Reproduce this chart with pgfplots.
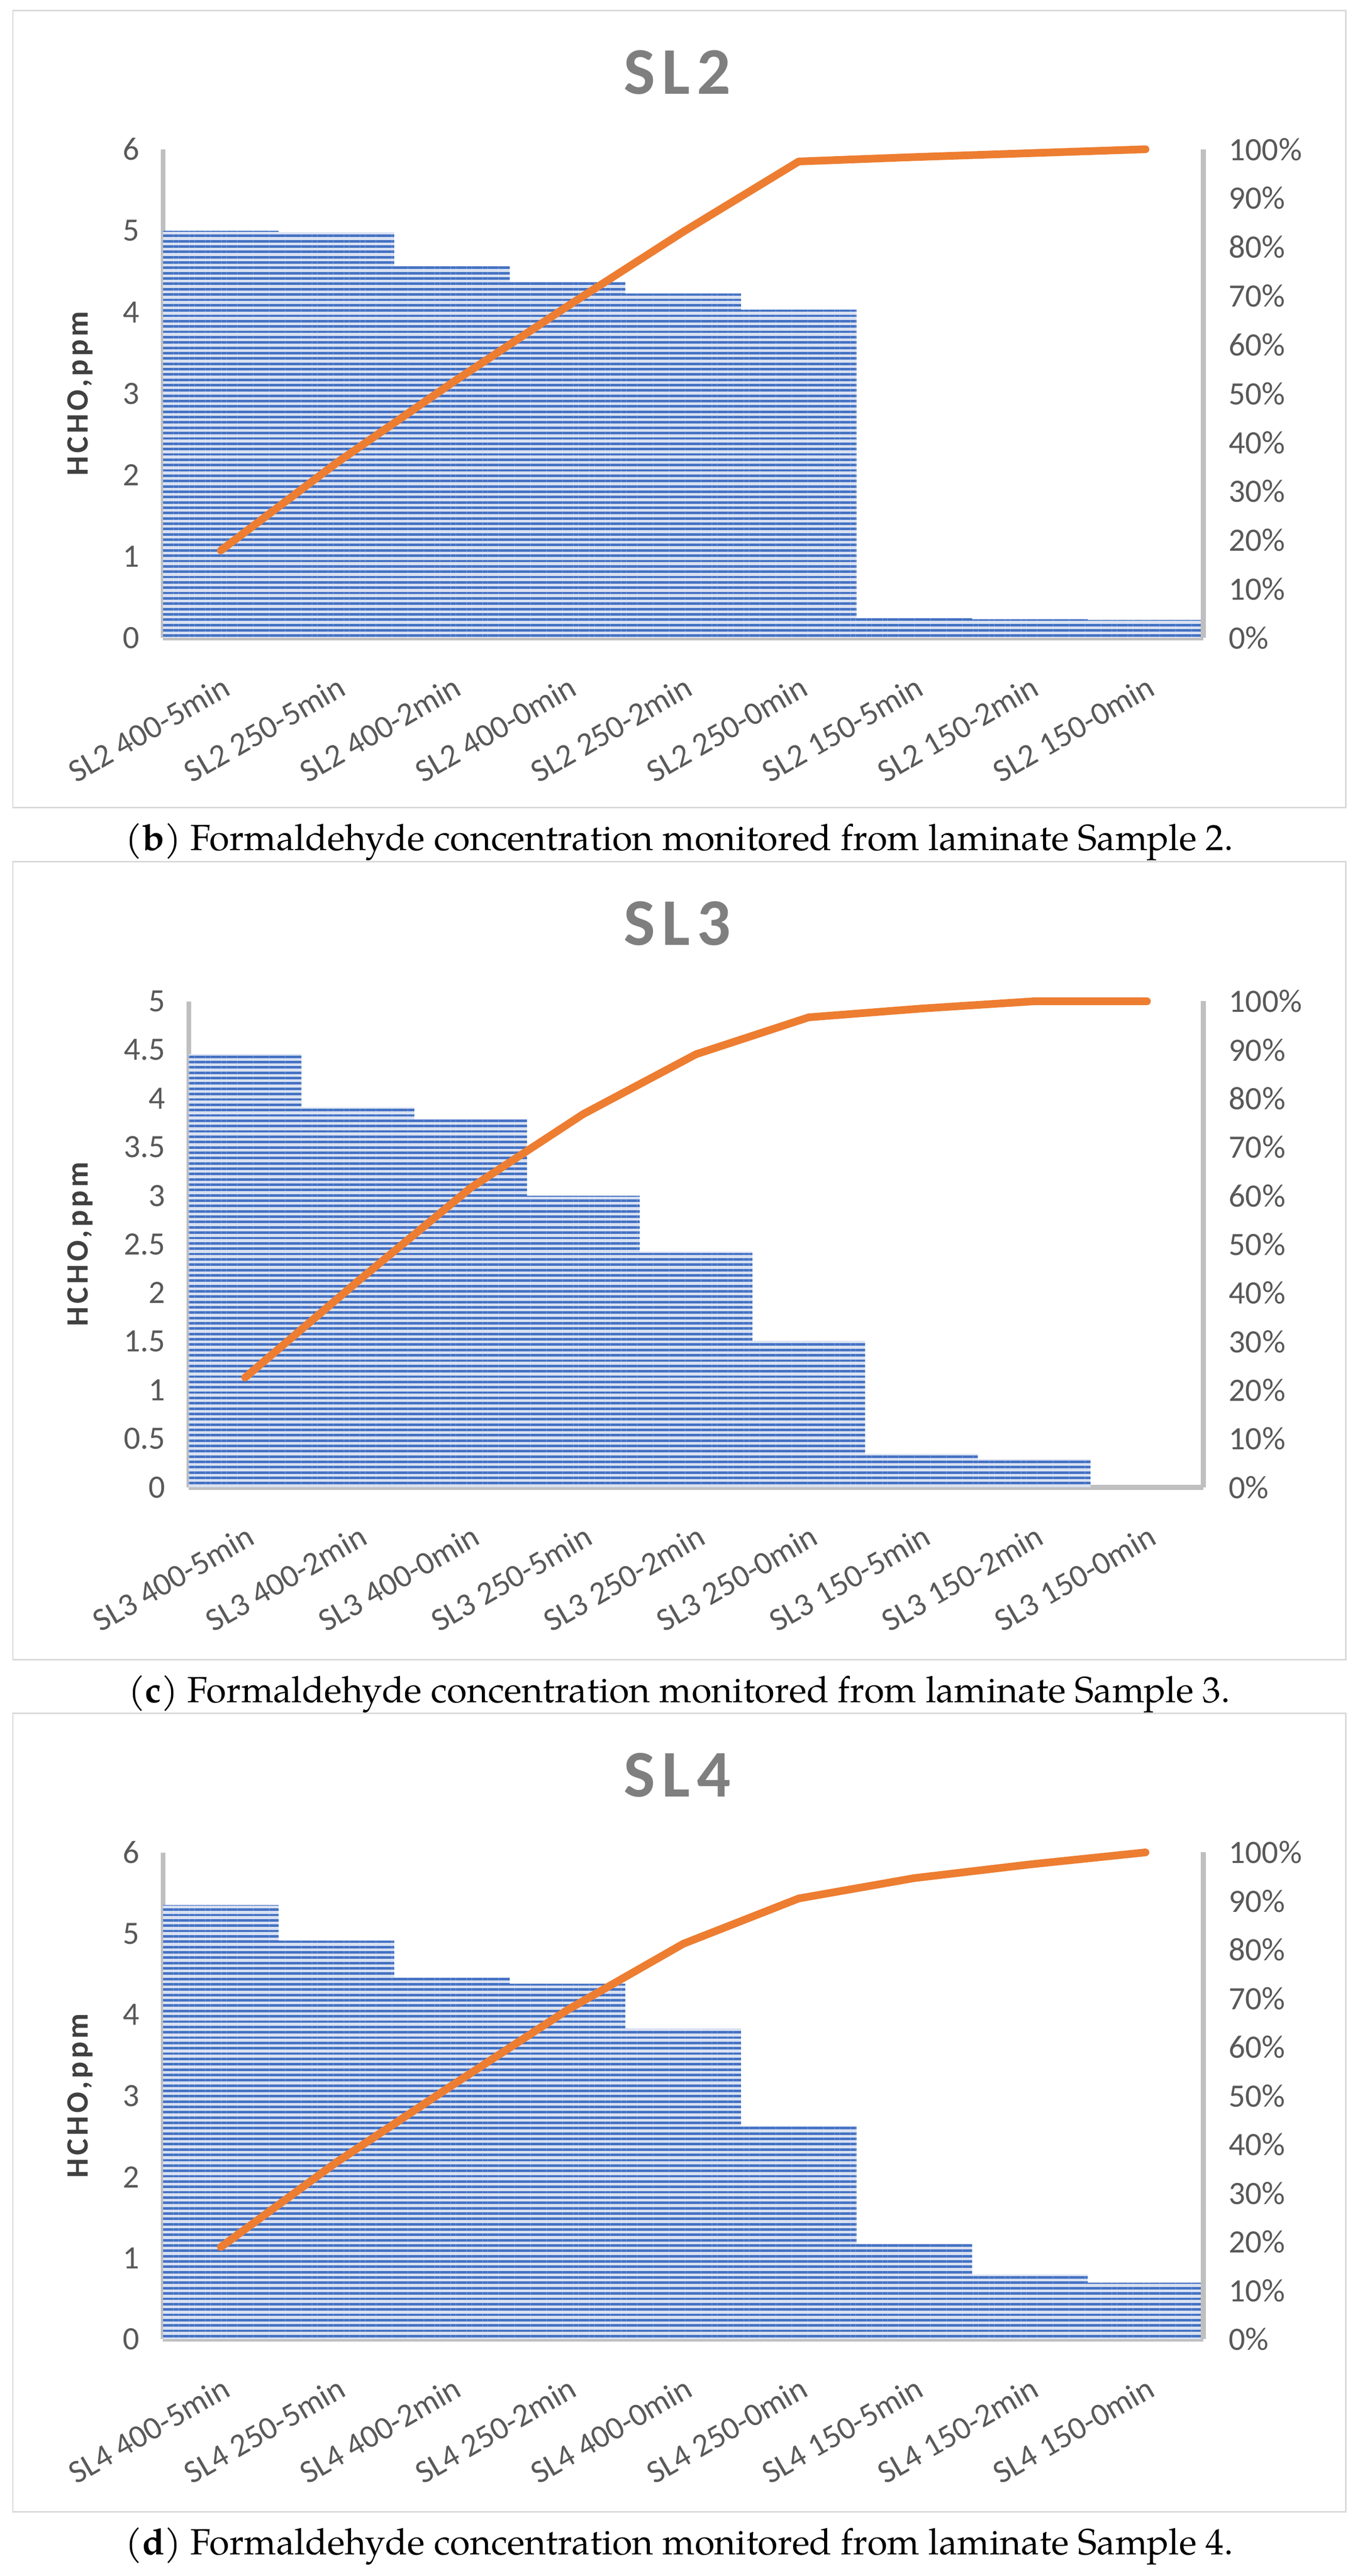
\documentclass[border=0pt]{standalone}
\usepackage{fontspec}
\setmainfont{Carlito}
\newfontfamily\spfont[LetterSpace=10]{Carlito}
\newfontfamily\capfont{TeX Gyre Pagella}
\usepackage{pgfplots}
\usepackage{pgfplotstable}
\pgfplotsset{compat=1.18}
\usetikzlibrary{patterns.meta}
\definecolor{barblue}{HTML}{4472C4}
\definecolor{barlight}{HTML}{D9E1F2}
\definecolor{lineor}{HTML}{ED7D31}
\definecolor{axgray}{HTML}{BFBFBF}
\definecolor{tickgray}{HTML}{595959}
\definecolor{titlegray}{HTML}{7F7F7F}
\definecolor{framegray}{HTML}{D9D9D9}
\definecolor{labgray}{HTML}{404040}

\pgfplotstableread{
x v c
0 5.00 17.9
1 4.98 35.8
2 4.57 52.2
3 4.375 67.9
4 4.23 83.1
5 4.03 97.5
6 0.245 98.4
7 0.23 99.2
8 0.22 100
}\sltwo
\pgfplotstableread{
x v c
0 4.457 22.6
1 3.909 42.4
2 3.787 61.6
3 3.00 76.8
4 2.425 89.1
5 1.506 96.7
6 0.343 98.5
7 0.288 100
8 0 100
}\slthree
\pgfplotstableread{
x v c
0 5.352 18.95
1 4.913 36.35
2 4.459 52.14
3 4.382 67.66
4 3.831 81.22
5 2.631 90.54
6 1.179 94.72
7 0.796 97.53
8 0.698 100
}\slfour

\pgfplotsset{
  base/.style={scale only axis, xmin=-0.5, xmax=8.5, ymin=0,
    axis line style={draw=axgray, line width=1.7pt}, major tick length=0pt,
    tick label style={font=\fontsize{11}{13}\selectfont, text=tickgray},
    /pgf/number format/assume math mode=true,
    /pgf/number format/fixed},
  leftax/.style={base, axis x line*=bottom, axis y line*=left,
    xtick={0,...,8},
    xticklabel style={yshift=-12pt, rotate=30, anchor=north east, inner sep=0pt},
    yticklabel style={anchor=east, inner sep=0pt, xshift=-7.8pt},
    every axis y label/.style={at={(axis description cs:0,0.5)}, xshift=#1, rotate=90, anchor=center,
      font=\spfont\bfseries\fontsize{10.5}{12}\selectfont, text=labgray},
    ylabel={HCHO,ppm}},
  rightax/.style={base, axis x line=none, axis y line*=right, ymax=100,
    ytick={0,10,...,100}, yticklabel={\pgfmathprintnumber{\tick}\%},
    yticklabel style={anchor=west, inner sep=0pt, xshift=8.5pt}, clip=false},
  bars/.style={ybar, bar width=1, bar shift=0pt, draw=none, fill=barlight,
    postaction={pattern={Lines[angle=0,distance=1.8pt,line width=0.85pt]}, pattern color=barblue}},
  cum/.style={lineor, line width=2.6pt, line cap=round, line join=round},
}
\tikzset{
  captxt/.style={anchor=base, font=\capfont\fontsize{12.3}{14}\selectfont},
  titletxt/.style={anchor=base, text=titlegray, font=\spfont\bfseries\fontsize{22.5}{26}\selectfont},
}

\begin{document}
\begin{tikzpicture}
\path[use as bounding box] (0,0) rectangle (459pt,-869.85pt);
\fill[white] (0,0) rectangle (459pt,-869.85pt);

% ---------- Panel b ----------
\draw[framegray, line width=0.5pt] (4.35pt,-3.6pt) rectangle (454.35pt,-272.7pt);
\node[titletxt] at (228.6pt,-31.8pt) {SL2};
\begin{axis}[leftax=-28pt, at={(55.05pt,-215.4pt)}, anchor=south west, width=351.15pt, height=165pt,
  ymax=6, ytick={0,1,2,3,4,5,6},
  xticklabels={SL2 400-5min, SL2 250-5min, SL2 400-2min, SL2 400-0min, SL2 250-2min, SL2 250-0min, SL2 150-5min, SL2 150-2min, SL2 150-0min}]
\addplot[bars] table[x=x, y=v] {\sltwo};
\end{axis}
\begin{axis}[rightax, at={(55.05pt,-215.4pt)}, anchor=south west, width=351.15pt, height=165pt]
\addplot[cum] table[x=x, y=c] {\sltwo};
\end{axis}
\node[captxt] at (229.35pt,-287.1pt) {(\textbf{b}) Formaldehyde concentration monitored from laminate Sample 2.};

% ---------- Panel c ----------
\draw[framegray, line width=0.5pt] (4.35pt,-291pt) rectangle (454.35pt,-560.4pt);
\node[titletxt] at (228.6pt,-319.2pt) {SL3};
\begin{axis}[leftax=-36.75pt, at={(63.75pt,-502.2pt)}, anchor=south west, width=342.45pt, height=164.1pt,
  ymax=5, ytick={0,0.5,1,1.5,2,2.5,3,3.5,4,4.5,5},
  xticklabels={SL3 400-5min, SL3 400-2min, SL3 400-0min, SL3 250-5min, SL3 250-2min, SL3 250-0min, SL3 150-5min, SL3 150-2min, SL3 150-0min}]
\addplot[bars] table[x=x, y=v] {\slthree};
\end{axis}
\begin{axis}[rightax, at={(63.75pt,-502.2pt)}, anchor=south west, width=342.45pt, height=164.1pt]
\addplot[cum] table[x=x, y=c] {\slthree};
\end{axis}
\node[captxt] at (229.35pt,-574.8pt) {(\textbf{c}) Formaldehyde concentration monitored from laminate Sample 3.};

% ---------- Panel d ----------
\draw[framegray, line width=0.5pt] (4.35pt,-578.55pt) rectangle (454.35pt,-848.25pt);
\node[titletxt] at (228.6pt,-606.75pt) {SL4};
\begin{axis}[leftax=-28pt, at={(55.05pt,-789.9pt)}, anchor=south west, width=351.15pt, height=164.4pt,
  ymax=6, ytick={0,1,2,3,4,5,6},
  xticklabels={SL4 400-5min, SL4 250-5min, SL4 400-2min, SL4 250-2min, SL4 400-0min, SL4 250-0min, SL4 150-5min, SL4 150-2min, SL4 150-0min}]
\addplot[bars] table[x=x, y=v] {\slfour};
\end{axis}
\begin{axis}[rightax, at={(55.05pt,-789.9pt)}, anchor=south west, width=351.15pt, height=164.4pt]
\addplot[cum] table[x=x, y=c] {\slfour};
\end{axis}
\node[captxt] at (229.35pt,-862.65pt) {(\textbf{d}) Formaldehyde concentration monitored from laminate Sample 4.};
\end{tikzpicture}
\end{document}
